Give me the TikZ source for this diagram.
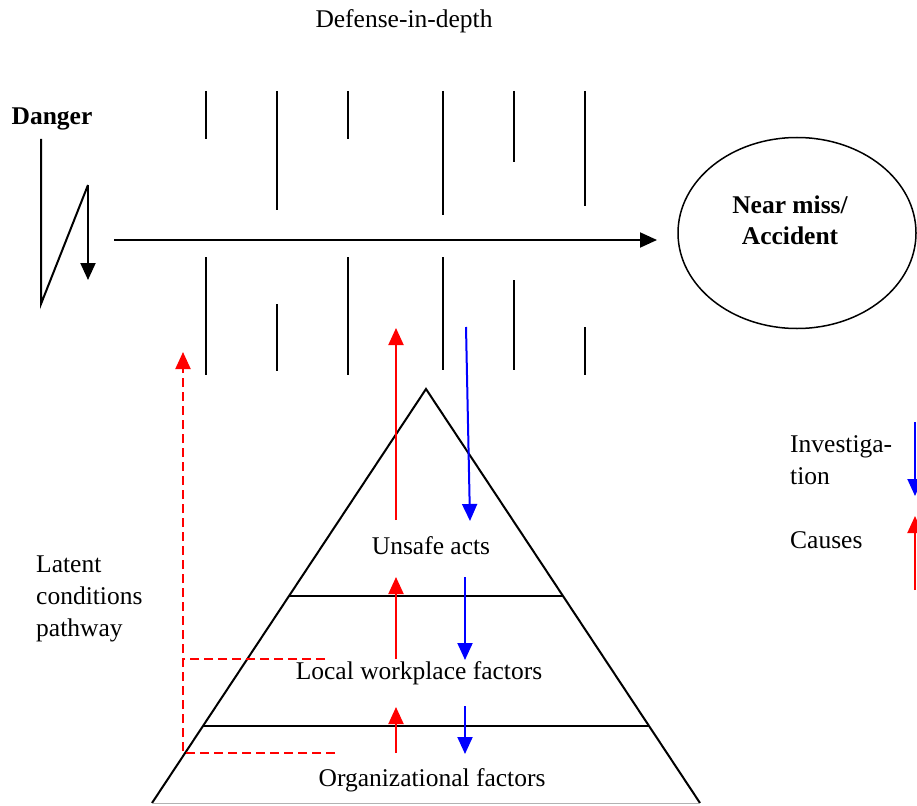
\documentclass[tikz,border=0pt]{standalone}
\usepackage{fontspec}
\setmainfont{Liberation Serif}
\usetikzlibrary{arrows.meta,shapes.geometric}
\begin{document}
\begin{tikzpicture}[x=1pt,y=-1pt,
  every node/.style={font=\fontsize{25.5}{32}\selectfont, inner sep=0pt},
  wall/.style={line width=2pt, line cap=butt},
  flow/.style={line width=2pt, -{Triangle[width=15pt,length=17pt]}},
  cause/.style={flow, red},
  probe/.style={flow, blue},
  latent/.style={red, line width=2pt, dash pattern=on 9pt off 5pt},
  edge/.style={line width=2pt}]
\useasboundingbox (0,0) rectangle (917,805);

% title and start
\node (title) at (404,21) {Defense-in-depth};
\node[font=\fontsize{25.5}{32}\selectfont\bfseries] (danger) at (52,119) {Danger};

% hazard zigzag
\coordinate (z1) at (41,139);
\coordinate (z2) at (41,304);
\coordinate (z3) at (88,185);
\coordinate (z4) at (88,280);
\draw[edge] (z1) -- (z2) -- (z3);
\draw[flow] (z3) -- (z4);

% trajectory to the outcome
\node[draw, ellipse, line width=1.5pt, minimum width=238pt, minimum height=191pt] (out) at (797,233) {};
\node[font=\fontsize{25.5}{31}\selectfont\bfseries, align=center] (outlbl) at (790,220) {Near miss/\\Accident};
\coordinate (start) at (114,240);
\coordinate (stop) at (657,240);
\draw[flow] (start) -- (stop);

% barrier layers, upper holes and lower holes
\foreach \x/\ta/\ba/\tb/\bb in {206/91/139/257/375, 277/91/210/304/371, 348/91/139/257/375,
                                443/91/215/257/370, 514/91/162/280/370, 585/91/206/327/375}{
  \coordinate (u\x) at (\x,\ta); \coordinate (v\x) at (\x,\ba);
  \coordinate (p\x) at (\x,\tb); \coordinate (q\x) at (\x,\bb);
  \draw[wall] (u\x) -- (v\x);
  \draw[wall] (p\x) -- (q\x);
}

% organisational pyramid
\coordinate (apex) at (426,389);
\coordinate (bl) at (152,803);
\coordinate (br) at (700,803);
\coordinate (t1l) at (289,596);
\coordinate (t1r) at (563,596);
\coordinate (t2l) at (203,726);
\coordinate (t2r) at (649,726);
\draw[edge] (bl) -- (apex) -- (br);
\draw[edge] (t1l) -- (t1r);
\draw[edge] (t2l) -- (t2r);
\draw[gray!60, line width=1pt] (bl) -- (br);

\node (unsafe) at (431,546) {Unsafe acts};
\node (local) at (419,673) {Local workplace factors};
\node (org) at (432,780) {Organizational factors};

% causal and investigative arrows
\coordinate (c1a) at (396,520); \coordinate (c1b) at (396,328);
\coordinate (c2a) at (396,659); \coordinate (c2b) at (396,577);
\coordinate (c3a) at (396,753); \coordinate (c3b) at (396,707);
\draw[cause] (c1a) -- (c1b);
\draw[cause] (c2a) -- (c2b);
\draw[cause] (c3a) -- (c3b);
\coordinate (i1a) at (466,327); \coordinate (i1b) at (470,521);
\coordinate (i2a) at (465,577); \coordinate (i2b) at (465,660);
\coordinate (i3a) at (465,706); \coordinate (i3b) at (465,754);
\draw[probe] (i1a) -- (i1b);
\draw[probe] (i2a) -- (i2b);
\draw[probe] (i3a) -- (i3b);

% latent conditions pathway
\node[align=left, anchor=north west] (latentlbl) at (36,556) {Latent\\conditions\\pathway};
\coordinate (lp1) at (325,659);
\coordinate (lp2) at (335,753);
\coordinate (lpc) at (183,659);
\coordinate (lpb) at (183,753);
\coordinate (lpa) at (183,369);
\coordinate (lpt) at (183,352);
\draw[latent] (lp1) -- (lpc);
\draw[latent] (lp2) -- (lpb) -- (lpc) -- (lpa);
\draw[cause] (lpa) -- (lpt);

% key
\node[align=left, anchor=west] (keyinv) at (790,460) {Investiga-\\tion};
\node[anchor=west] (keycause) at (790,540) {Causes};
\coordinate (ka) at (915,422); \coordinate (kb) at (915,496);
\coordinate (kc) at (915,590); \coordinate (kd) at (915,516);
\draw[probe] (ka) -- (kb);
\draw[cause] (kc) -- (kd);
\end{tikzpicture}
\end{document}
